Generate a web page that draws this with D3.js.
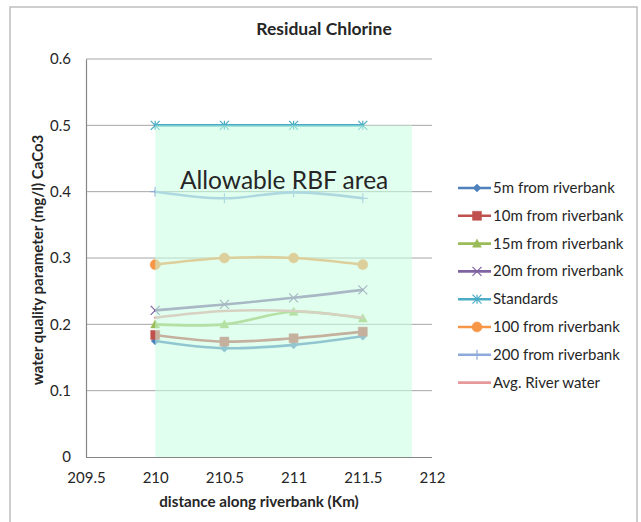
<!DOCTYPE html>
<html>
<head>
<meta charset="utf-8">
<script src="https://cdn.jsdelivr.net/npm/d3@7"></script>
<style>
  html, body { margin: 0; padding: 0; background: #fff; }
  svg { display: block; }
  text { font-family: Lato, "Open Sans", sans-serif; fill: #262626; }
</style>
</head>
<body>
<svg id="chart" width="641" height="522"></svg>
<script>
// Distance along riverbank (Km) for each sampling station
const distances = [210, 210.5, 211, 211.5];

// Residual chlorine readings, one array per series
const seriesNames = [
  "5m from riverbank",
  "10m from riverbank",
  "15m from riverbank",
  "20m from riverbank",
  "Standards",
  "100 from riverbank",
  "200 from riverbank",
  "Avg. River water"
];
const s5m       = [0.175, 0.164, 0.169, 0.182];
const s10m      = [0.184, 0.174, 0.179, 0.189];
const s15m      = [0.200, 0.200, 0.219, 0.209];
const s20m      = [0.221, 0.230, 0.240, 0.252];
const standards = [0.5, 0.5, 0.5, 0.5];
const s100m     = [0.290, 0.300, 0.300, 0.290];
const s200m     = [0.400, 0.390, 0.399, 0.390];
const riverAvg  = [0.210, 0.220, 0.220, 0.210];
const seriesValues = [s5m, s10m, s15m, s20m, standards, s100m, s200m, riverAvg];

const seriesColors = ["#4F81BD", "#C0504D", "#9BBB59", "#8064A2", "#4BACC6", "#F79646", "#8EA9DB", "#E6999A"];
const seriesMarkers = ["diamond", "square", "triangle", "x", "asterisk", "circle", "plus", "none"];

// Axis ticks
const xTicks = [209.5, 210, 210.5, 211, 211.5, 212];
const yTicks = [0, 0.1, 0.2, 0.3, 0.4, 0.5, 0.6];

// Shaded allowable region: distance span and upper limit
const areaX = [210, 211.855];
const areaTop = 0.5;
const areaLabel = "Allowable RBF area";

const svg = d3.select("#chart");

// outer chart frame
svg.append("rect")
  .attr("x", 10).attr("y", 7).attr("width", 627).attr("height", 530)
  .attr("fill", "#fff").attr("stroke", "#BFBFBF").attr("stroke-width", 1.5);

const plot = { left: 86, right: 432, top: 59, bottom: 457 };
const x = d3.scaleLinear().domain([209.5, 212]).range([plot.left, plot.right]);
const y = d3.scaleLinear().domain([0, 0.6]).range([plot.bottom, plot.top]);

// gridlines
svg.append("g")
  .selectAll("line").data(yTicks.filter(d => d > 0)).join("line")
  .attr("x1", plot.left).attr("x2", plot.right)
  .attr("y1", d => y(d)).attr("y2", d => y(d))
  .attr("stroke", "#A6A6A6").attr("stroke-width", 1);

// axes (lines only; labels drawn by the axis generators)
const yAxis = svg.append("g").attr("transform", `translate(${plot.left},0)`)
  .call(d3.axisLeft(y).tickValues(yTicks).tickSize(0).tickPadding(15)
    .tickFormat(d => d === 0 ? "0" : d3.format(".1f")(d)));
const xAxis = svg.append("g").attr("transform", `translate(0,${plot.bottom})`)
  .call(d3.axisBottom(x).tickValues(xTicks).tickSize(0).tickPadding(15)
    .tickFormat(d => String(d)));
[yAxis, xAxis].forEach(g => {
  g.select(".domain").attr("stroke", "#868686").attr("stroke-width", 1.2);
  g.selectAll("text").style("font-size", "15px").attr("fill", "#333");
});
xAxis.select(".domain").attr("d", `M${plot.left},0.5H${plot.right}`);

// series lines (smoothed)
const line = d3.line()
  .x((d, i) => x(distances[i]))
  .y(d => y(d))
  .curve(d3.curveCatmullRom.alpha(0.5));

const symbolPath = (type, size) => {
  const h = size / 2;
  switch (type) {
    case "diamond": return `M0,${-h}L${h},0L0,${h}L${-h},0Z`;
    case "square": return `M${-h},${-h}H${h}V${h}H${-h}Z`;
    case "triangle": return `M0,${-h}L${h},${h * 0.8}H${-h}Z`;
    case "x": return `M${-h},${-h}L${h},${h}M${h},${-h}L${-h},${h}`;
    case "plus": return `M${-h},0H${h}M0,${-h}V${h}`;
    case "asterisk": return `M${-h},${-h}L${h},${h}M${h},${-h}L${-h},${h}M0,${-h}V${h}`;
    case "circle": return d3.symbol(d3.symbolCircle, size * size * 0.8)();
    default: return "";
  }
};
const markerSize = { diamond: 8, square: 9, triangle: 9, x: 9, plus: 10, asterisk: 9, circle: 10, none: 0 };
const filled = t => ["diamond", "square", "triangle", "circle"].includes(t);

const series = seriesNames.map((name, i) => ({
  name, values: seriesValues[i], color: seriesColors[i], marker: seriesMarkers[i]
}));

const gSeries = svg.append("g");
series.forEach(s => {
  const g = gSeries.append("g");
  g.append("path").attr("d", line(s.values))
    .attr("fill", "none").attr("stroke", s.color).attr("stroke-width", 2.6)
    .attr("stroke-linejoin", "round").attr("stroke-linecap", "round");
  if (s.marker !== "none") {
    g.selectAll("path.m").data(s.values).join("path").attr("class", "m")
      .attr("transform", (d, i) => `translate(${x(distances[i])},${y(d)})`)
      .attr("d", symbolPath(s.marker, markerSize[s.marker]))
      .attr("fill", filled(s.marker) ? s.color : "none")
      .attr("stroke", s.color).attr("stroke-width", filled(s.marker) ? 0.5 : 1.2);
  }
});

// translucent shaded region over the plotted series
svg.append("rect")
  .attr("x", x(areaX[0])).attr("y", y(areaTop))
  .attr("width", x(areaX[1]) - x(areaX[0]))
  .attr("height", y(0) - y(areaTop))
  .attr("fill", "#C8FFE2").attr("fill-opacity", 0.55);

svg.append("text")
  .attr("x", 180).attr("y", 189)
  .style("font-size", "24.5px").attr("fill", "#1a1a1a")
  .text(areaLabel);

// title and axis titles
svg.append("text").attr("x", 324).attr("y", 35).attr("text-anchor", "middle")
  .style("font-size", "17.5px").style("font-weight", "bold").text("Residual Chlorine");
svg.append("text").attr("x", 259).attr("y", 507).attr("text-anchor", "middle")
  .style("font-size", "15.2px").style("font-weight", "bold").text("distance along riverbank (Km)");
svg.append("text")
  .attr("transform", "translate(43,260) rotate(-90)").attr("text-anchor", "middle")
  .style("font-size", "15px").style("font-weight", "bold")
  .text("water quality parameter (mg/l) CaCo3");

// legend
const legend = svg.append("g");
series.forEach((s, i) => {
  const ly = 188 + i * 27.8;
  const g = legend.append("g").attr("transform", `translate(0,${ly})`);
  g.append("line").attr("x1", 458).attr("x2", 491).attr("y1", 0).attr("y2", 0)
    .attr("stroke", s.color).attr("stroke-width", 2.6);
  if (s.marker !== "none") {
    g.append("path").attr("transform", "translate(477,0)")
      .attr("d", symbolPath(s.marker, markerSize[s.marker]))
      .attr("fill", filled(s.marker) ? s.color : "none")
      .attr("stroke", s.color).attr("stroke-width", filled(s.marker) ? 0.5 : 1.2);
  }
  g.append("text").attr("x", 493).attr("y", 5)
    .style("font-size", "15px").text(s.name);
});
</script>
</body>
</html>
